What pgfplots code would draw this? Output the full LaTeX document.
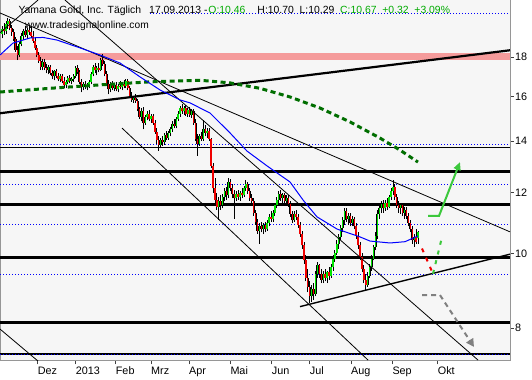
\documentclass[border=0pt]{standalone}
\usepackage{fontspec}
\setmainfont{Liberation Sans}
\usepackage{pgfplots}
\pgfplotsset{compat=1.18}
\usepackage{pgfplotstable}
\usetikzlibrary{arrows.meta}
\definecolor{bgc}{RGB}{246,246,246}
\definecolor{cred}{RGB}{240,0,0}
\definecolor{cgreen}{RGB}{0,230,0}
\definecolor{magreen}{RGB}{0,110,0}
\definecolor{pinkband}{RGB}{245,155,155}
\definecolor{brightgreen}{RGB}{60,200,60}
\definecolor{framec}{RGB}{150,150,150}
\definecolor{dollar}{RGB}{200,120,0}
\definecolor{txtgreen}{RGB}{0,170,0}

\pgfplotstableread{
x o h l c
2.0 19.30 19.75 19.05 19.60
3.9 19.60 19.95 19.25 19.45
5.9 19.45 20.05 19.30 19.90
7.8 19.90 20.25 19.60 20.05
9.7 20.05 20.20 19.50 19.65
11.7 19.65 19.85 19.20 19.40
13.6 19.40 19.60 18.90 19.00
15.5 19.00 19.15 18.30 18.40
17.5 18.40 18.60 17.85 18.10
19.4 18.10 18.85 18.00 18.75
21.4 18.75 19.35 18.60 19.20
23.3 19.20 19.60 18.95 19.45
25.2 19.45 19.75 19.10 19.25
27.2 19.25 19.65 19.00 19.55
29.1 19.55 19.85 19.25 19.40
31.0 19.40 19.70 19.05 19.20
33.0 19.20 19.45 18.80 18.90
34.9 18.90 19.10 18.40 18.50
36.8 18.50 18.70 18.00 18.10
38.8 18.10 18.30 17.70 17.80
40.7 17.80 18.00 17.35 17.50
42.6 17.50 17.90 17.30 17.75
44.6 17.75 17.90 17.35 17.45
46.5 17.45 17.65 17.15 17.30
48.4 17.30 17.60 17.10 17.50
50.4 17.50 17.60 17.05 17.15
52.3 17.15 17.35 16.85 17.00
54.2 17.00 17.35 16.80 17.25
56.2 17.25 17.40 16.90 17.00
58.1 17.00 17.15 16.75 16.85
60.1 16.85 17.10 16.70 17.00
62.0 17.00 17.10 16.65 16.75
63.9 16.75 16.95 16.40 16.55
65.9 16.55 16.80 16.40 16.70
67.8 16.70 17.00 16.60 16.90
69.7 16.90 17.05 16.65 16.75
71.7 16.75 16.95 16.60 16.85
73.6 16.85 17.10 16.70 17.00
75.5 17.00 17.55 16.90 17.45
77.5 17.45 17.60 17.10 17.20
79.4 17.20 17.30 16.60 16.70
81.3 16.70 16.85 16.20 16.45
83.3 16.45 16.70 16.30 16.60
85.2 16.60 16.75 16.35 16.45
87.1 16.45 16.65 16.30 16.55
89.1 16.55 16.80 16.40 16.70
91.0 16.70 17.20 16.60 17.10
92.9 17.10 17.60 17.00 17.50
94.9 17.50 17.70 17.15 17.30
96.8 17.30 17.55 17.05 17.45
98.8 17.45 17.70 17.20 17.35
100.7 17.35 17.95 17.25 17.85
102.6 17.85 18.20 17.55 17.65
104.6 17.65 17.80 17.00 17.10
106.5 17.10 17.25 16.50 16.60
108.4 16.60 16.80 16.10 16.35
110.4 16.35 16.70 16.20 16.60
112.3 16.60 16.75 16.30 16.40
114.2 16.40 16.65 16.25 16.55
116.2 16.55 16.70 16.25 16.35
118.1 16.35 16.60 16.20 16.50
120.0 16.50 16.75 16.35 16.45
122.0 16.45 16.70 16.30 16.60
123.9 16.60 16.80 16.40 16.50
125.8 16.50 16.85 16.40 16.75
127.8 16.75 16.85 16.30 16.40
129.7 16.40 16.50 15.95 16.05
131.6 16.05 16.20 15.75 15.85
133.6 15.85 16.05 15.70 15.95
135.5 15.95 16.10 15.70 15.80
137.5 15.80 15.90 15.30 15.40
139.4 15.40 15.50 14.95 15.05
141.3 15.05 15.45 14.85 15.30
143.3 15.30 15.50 14.50 14.80
145.2 14.80 15.15 14.70 15.05
147.1 15.05 15.30 14.90 15.20
149.1 15.20 15.35 14.85 14.95
151.0 14.95 15.20 14.80 15.10
152.9 15.10 15.20 14.70 14.80
154.9 14.80 14.90 14.30 14.40
156.8 14.40 14.55 13.90 14.05
158.7 14.05 14.20 13.60 13.85
160.7 13.85 14.15 13.70 14.05
162.6 14.05 14.20 13.80 13.95
164.5 13.95 14.35 13.85 14.25
166.5 14.25 14.45 14.05 14.15
168.4 14.15 14.45 14.05 14.35
170.3 14.35 14.60 14.20 14.50
172.3 14.50 14.85 14.40 14.75
174.2 14.75 14.95 14.55 14.65
176.2 14.65 15.05 14.55 14.95
178.1 14.95 15.30 14.85 15.20
180.0 15.20 15.55 15.05 15.45
182.0 15.45 15.65 15.20 15.30
183.9 15.30 15.55 15.15 15.45
185.8 15.45 15.60 15.10 15.20
187.8 15.20 15.45 15.05 15.35
189.7 15.35 15.50 15.05 15.15
191.6 15.15 15.40 15.00 15.30
193.6 15.30 15.40 14.70 14.80
195.5 14.80 14.95 14.00 14.10
197.4 14.10 14.30 13.40 13.90
199.4 13.90 14.30 13.80 14.20
201.3 14.20 14.40 14.00 14.10
203.2 14.10 14.90 14.00 14.50
205.2 14.50 14.70 14.20 14.35
207.1 14.35 14.55 14.15 14.45
209.0 14.45 14.55 14.00 14.10
211.0 14.10 14.15 12.90 13.00
212.9 13.00 13.10 12.00 12.15
214.9 12.15 12.55 11.60 11.75
216.8 11.75 12.00 11.40 11.50
218.7 11.50 11.85 11.05 11.70
220.7 11.70 11.90 11.40 11.55
222.6 11.55 11.95 11.45 11.85
224.5 11.85 12.15 11.70 12.05
226.5 12.05 12.20 11.75 11.90
228.4 11.90 12.55 11.80 12.40
230.3 12.40 12.50 12.05 12.15
232.3 12.15 12.30 11.80 11.95
234.2 11.95 12.10 11.10 11.80
236.1 11.80 12.05 11.70 11.95
238.1 11.95 12.10 11.75 11.85
240.0 11.85 12.05 11.70 12.00
241.9 12.00 12.15 11.80 11.90
243.9 11.90 12.25 11.85 12.15
245.8 12.15 12.45 12.05 12.30
247.7 12.30 12.40 11.95 12.05
249.7 12.05 12.15 11.70 11.80
251.6 11.80 11.95 11.60 11.70
253.6 11.70 11.80 11.20 11.30
255.5 11.30 11.40 10.90 11.00
257.4 11.00 11.10 10.60 10.70
259.4 10.70 10.95 10.30 10.85
261.3 10.85 11.00 10.65 10.75
263.2 10.75 10.95 10.60 10.90
265.2 10.90 11.00 10.65 10.75
267.1 10.75 11.05 10.70 10.95
269.0 10.95 11.25 10.85 11.15
271.0 11.15 11.35 11.00 11.10
272.9 11.10 11.40 11.00 11.30
274.8 11.30 11.65 11.20 11.55
276.8 11.55 11.85 11.45 11.75
278.7 11.75 12.05 11.65 11.95
280.6 11.95 12.10 11.70 11.80
282.6 11.80 12.00 11.65 11.90
284.5 11.90 12.00 11.60 11.70
286.4 11.70 11.90 11.55 11.80
288.4 11.80 11.90 11.50 11.60
290.3 11.60 11.70 11.15 11.25
292.3 11.25 11.35 10.95 11.05
294.2 11.05 11.35 11.00 11.25
296.1 11.25 11.40 11.05 11.15
298.1 11.15 11.25 10.80 10.90
300.0 10.90 11.00 10.50 10.60
301.9 10.60 10.70 10.15 10.25
303.9 10.25 10.35 9.70 9.80
305.8 9.80 9.95 9.20 9.30
307.7 9.30 9.55 8.90 9.05
309.7 9.05 9.20 8.62 8.80
311.6 8.80 9.10 8.65 9.00
313.5 9.00 9.15 8.70 8.85
315.5 8.85 9.50 8.80 9.40
317.4 9.40 9.75 9.30 9.65
319.3 9.65 9.70 9.30 9.40
321.3 9.40 9.55 9.15 9.25
323.2 9.25 9.50 9.15 9.40
325.1 9.40 9.55 9.20 9.30
327.1 9.30 9.50 9.15 9.45
329.0 9.45 9.60 9.25 9.35
331.0 9.35 9.70 9.30 9.60
332.9 9.60 9.95 9.50 9.85
334.8 9.85 10.10 9.75 10.00
336.8 10.00 10.40 9.95 10.30
338.7 10.30 10.60 10.15 10.50
340.6 10.50 10.90 10.40 10.80
342.6 10.80 11.15 10.65 11.05
344.5 11.05 11.45 10.90 11.35
346.4 11.35 11.45 11.00 11.10
348.4 11.10 11.30 10.90 11.20
350.3 11.20 11.30 10.85 10.95
352.2 10.95 11.20 10.85 11.10
354.2 11.10 11.15 10.75 10.85
356.1 10.85 10.95 10.45 10.55
358.0 10.55 10.65 10.15 10.25
360.0 10.25 10.35 9.80 9.90
361.9 9.90 10.00 9.45 9.55
363.8 9.55 9.65 9.15 9.25
365.8 9.25 9.40 8.97 9.10
367.7 9.10 9.45 9.05 9.35
369.7 9.35 9.70 9.30 9.60
371.6 9.60 9.95 9.50 9.85
373.5 9.85 10.25 9.80 10.20
375.5 10.20 10.65 10.10 10.55
377.4 10.55 11.40 10.45 11.25
379.3 11.25 11.55 11.10 11.45
381.3 11.45 11.70 11.30 11.60
383.2 11.60 11.75 11.30 11.45
385.1 11.45 11.75 11.35 11.65
387.1 11.65 11.80 11.40 11.50
389.0 11.50 11.90 11.45 11.85
390.9 11.85 12.15 11.75 12.05
392.9 12.05 12.46 11.90 12.20
394.8 12.20 12.30 11.75 11.85
396.7 11.85 11.95 11.45 11.55
398.7 11.55 11.70 11.30 11.45
400.6 11.45 11.65 11.25 11.55
402.5 11.55 11.65 11.20 11.30
404.5 11.30 11.50 11.10 11.40
406.4 11.40 11.50 11.10 11.20
408.4 11.20 11.30 10.85 10.95
410.3 10.95 11.05 10.65 10.75
412.2 10.75 10.85 10.30 10.40
414.2 10.40 10.60 10.20 10.50
416.1 10.50 10.75 10.30 10.35
418.0 10.46 10.70 10.29 10.67
}\candles

\newcommand{\tf}{\fontsize{10.4bp}{12bp}\selectfont}

\begin{document}
\begin{tikzpicture}
\begin{axis}[
  at={(0,0)}, anchor=south west,
  scale only axis, width=510bp, height=361bp,
  xmin=0, xmax=510, ymode=log, ymin=7.249, ymax=21.364,
  axis background/.style={fill=bgc},
  axis line style={framec, line width=1bp},
  xtick={37.7,75.7,115.7,151,189,230.3,271.7,309.7,351,392.3,437.7},
  xticklabels={Dez,2013,Feb,Mrz,Apr,Mai,Jun,Jul,Aug,Sep,Okt},
  ytick={8,10,12,14,16,18},
  yticklabels={8,10,12,14,16,18},
  xtick pos=left, ytick pos=right, yticklabel pos=right,
  tick align=outside, major tick length=3.5bp,
  tick style={black!75, line width=0.8bp},
  xticklabel style={anchor=north west, inner sep=0pt, yshift=-2bp},
  yticklabel style={anchor=west, inner sep=0pt, xshift=1.5bp},
  ticklabel style={font=\fontsize{10.8bp}{12bp}\selectfont},
  /pgf/number format/assume math mode=true,
  minor tick num=0,
  clip=true,
]
% pink resistance band
\addplot[pinkband, line width=6.6bp, forget plot] coordinates {(0,18.045) (510,18.045)};
% horizontal lines
\addplot[black, line width=1.1bp] coordinates {(0,13.75) (510,13.75)};
\addplot[black, line width=2.3bp] coordinates {(0,12.78) (510,12.78)};
\addplot[black, line width=2.3bp] coordinates {(0,11.58) (510,11.58)};
\addplot[black, line width=2.3bp] coordinates {(0,9.88) (510,9.88)};
\addplot[black, line width=2.3bp] coordinates {(0,8.13) (510,8.13)};
\addplot[black, line width=1.3bp] coordinates {(0,7.40) (510,7.40)};
% blue dotted levels
\addplot[blue, line width=1bp, dash pattern=on 1bp off 2bp] coordinates {(150,20.5) (510,20.5)};
\addplot[blue, line width=1bp, dash pattern=on 1bp off 2bp] coordinates {(0,13.88) (510,13.88)};
\addplot[blue, line width=1bp, dash pattern=on 1bp off 2bp] coordinates {(0,12.30) (510,12.30)};
\addplot[blue, line width=1bp, dash pattern=on 1bp off 2bp] coordinates {(0,10.91) (510,10.91)};
\addplot[blue, line width=1bp, dash pattern=on 1bp off 2bp] coordinates {(0,9.40) (510,9.40)};
\addplot[blue, line width=1bp, dash pattern=on 1bp off 2bp] coordinates {(0,7.40) (510,7.40)};
% candles: wicks
\addplot[draw=none, mark=none, error bars/.cd, y dir=plus, y explicit, error mark=none,
  error bar style={draw=black, solid, line width=0.7bp}]
  table[x=x, y=l, y error expr=\thisrow{h}-\thisrow{l}] {\candles};
% candle bodies: outline
\addplot[draw=none, mark=none, error bars/.cd, y dir=plus, y explicit, error mark=none,
  error bar style={draw=black, solid, line width=2.0bp}]
  table[x=x, y expr={min(\thisrow{o},\thisrow{c})}, y error expr={abs(\thisrow{c}-\thisrow{o})}] {\candles};
% green bodies
\addplot[draw=none, mark=none, restrict expr to domain={\thisrow{c}-\thisrow{o}}{0:100},
  error bars/.cd, y dir=plus, y explicit, error mark=none,
  error bar style={draw=cgreen, solid, line width=1.4bp}]
  table[x=x, y=o, y error expr={\thisrow{c}-\thisrow{o}}] {\candles};
% red bodies
\addplot[draw=none, mark=none, restrict expr to domain={\thisrow{o}-\thisrow{c}}{0.0001:100},
  error bars/.cd, y dir=plus, y explicit, error mark=none,
  error bar style={draw=cred, solid, line width=1.4bp}]
  table[x=x, y=c, y error expr={\thisrow{o}-\thisrow{c}}] {\candles};
% trend lines
\addplot[black, line width=2.2bp] coordinates {(0,15.22) (510,18.38)};
\addplot[black, line width=0.8bp] coordinates {(0,20.55) (510,10.67)};
\addplot[black, line width=0.8bp] coordinates {(65,21.36) (478,7.27)};
\addplot[black, line width=0.8bp] coordinates {(122,14.56) (368,7.27)};
\addplot[black, line width=0.8bp] coordinates {(0,7.977) (45,7.12)};
\addplot[black, line width=0.8bp] coordinates {(0,19.37) (38,21.36)};
\addplot[black, line width=1.4bp] coordinates {(300,8.53) (510,9.98)};
% moving averages
\addplot[magreen, line width=3bp, dash pattern=on 5bp off 3.5bp] coordinates {
(0,16.22) (50,16.40) (100,16.57) (150,16.72) (200,16.80) (230,16.67) (260,16.40)
(290,15.98) (320,15.46) (350,14.83) (380,14.13) (400,13.63) (418,13.15)};
\addplot[blue, line width=1bp] coordinates {
(0,18.12) (13,18.78) (30,19.07) (43,19.10) (57,18.95) (80,18.51) (100,18.12)
(120,17.69) (140,16.97) (160,16.32) (180,15.84) (190,15.70) (210,15.23) (230,14.35)
(247,13.59) (267,13.00) (280,12.65) (290,12.39) (303,11.74) (317,11.16) (337,10.76)
(360,10.51) (370,10.38) (390,10.32) (405,10.36) (418,10.54)};
% projections
\addplot[cred, line width=2bp, dash pattern=on 4bp off 6bp] coordinates {(422,10.15) (433,9.41)};
\addplot[brightgreen, line width=2bp, dash pattern=on 4bp off 6bp] coordinates {(433,9.41) (442,10.50)};
\addplot[brightgreen, line width=2bp, -{Triangle[length=8bp,width=7bp]}] coordinates {(428,11.19) (439,11.19) (460,13.15)};
\addplot[gray, line width=2bp, dash pattern=on 5bp off 4bp, -{Triangle[length=8bp,width=8bp]}] coordinates {(422,8.83) (440,8.83) (474,7.56)};
% texts
\node[anchor=base west, inner sep=0pt, font=\tf] at (axis description cs:0.0359,0.9626) {Yamana Gold, Inc. Täglich};
\node[anchor=base west, inner sep=0pt, font=\tf] at (axis description cs:0.2922,0.9626) {17.09.2013 -};
\node[anchor=base west, inner sep=0pt, font=\tf, text=txtgreen] at (axis description cs:0.4084,0.9626) {O:10.46};
\node[anchor=base west, inner sep=0pt, font=\tf] at (axis description cs:0.5045,0.9626)
  {H:10.70\ \ L:10.29\ \ \textcolor{txtgreen}{C:10.67\ \ +0.32\ \ +3.09\%}};
\node[anchor=base west, inner sep=0pt, font=\fontsize{10.2bp}{12bp}\selectfont] at (axis description cs:0.049,0.9197)
  {www.tradesignalonline.com};
\node[anchor=west, inner sep=0pt, text=dollar, font=\fontsize{10.8bp}{12bp}\selectfont] at (axis description cs:1.0118,0.975) {\$};
\end{axis}
\pgfresetboundingbox
\path[use as bounding box] (0,-19bp) rectangle (532bp,361bp);
\end{tikzpicture}
\end{document}
